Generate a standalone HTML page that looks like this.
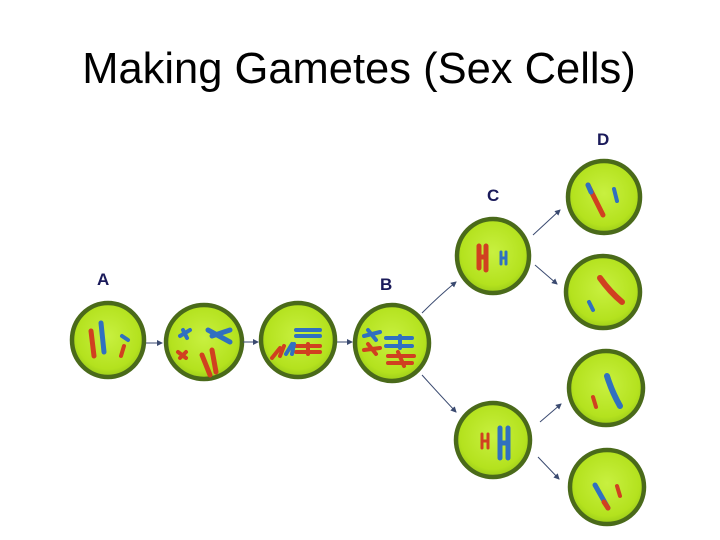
<!DOCTYPE html>
<html><head><style>
body{margin:0;background:#fff;width:720px;height:540px;overflow:hidden}
svg{display:block}
</style></head><body>
<svg width="720" height="540" viewBox="0 0 720 540" xmlns="http://www.w3.org/2000/svg">
<defs>
<radialGradient id="g" cx="50%" cy="45%" r="55%">
<stop offset="0%" stop-color="#c8f040"/><stop offset="80%" stop-color="#b4e21e"/><stop offset="100%" stop-color="#9ccc1a"/>
</radialGradient>
<marker id="ah" markerWidth="6" markerHeight="6" refX="5" refY="3" orient="auto"><path d="M0,0 L6,3 L0,6 z" fill="#3a4a70"/></marker>
</defs>
<text x="359" y="83" text-anchor="middle" font-family="Liberation Sans, sans-serif" font-size="43.5" fill="#000">Making Gametes (Sex Cells)</text>
<g font-family="Liberation Sans, sans-serif" font-weight="bold" font-size="17" fill="#1a1a5a">
<text x="97" y="285">A</text><text x="380" y="290">B</text><text x="487" y="201">C</text><text x="597" y="145">D</text>
</g>
<g fill="url(#g)" stroke="#4a6a1a" stroke-width="4.5">
<ellipse cx="108" cy="340" rx="36" ry="37"/>
<ellipse cx="204" cy="342" rx="38" ry="37"/>
<ellipse cx="298" cy="340" rx="37" ry="37"/>
<ellipse cx="392" cy="343" rx="37" ry="38"/>
<ellipse cx="493" cy="256" rx="36" ry="37"/>
<ellipse cx="493" cy="440" rx="37" ry="37"/>
<ellipse cx="604" cy="197" rx="36" ry="36"/>
<ellipse cx="603" cy="292" rx="37" ry="36"/>
<ellipse cx="606" cy="388" rx="37" ry="37"/>
<ellipse cx="607" cy="487" rx="37" ry="37"/>
</g>
<g stroke="#3a4a70" stroke-width="1" fill="none" marker-end="url(#ah)">
<line x1="146" y1="343" x2="162" y2="343"/>
<line x1="243" y1="342" x2="258" y2="342"/>
<line x1="337" y1="342" x2="352" y2="342"/>
<path d="M422 313 Q440 295 456 282"/>
<path d="M422 375 Q440 395 456 412"/>
<line x1="533" y1="235" x2="560" y2="210"/>
<line x1="535" y1="265" x2="557" y2="284"/>
<line x1="540" y1="422" x2="561" y2="404"/>
<line x1="538" y1="457" x2="559" y2="479"/>
</g>
<g stroke-linecap="round" fill="none">
<line x1="91" y1="331" x2="94" y2="356" stroke="#d04020" stroke-width="5"/>
<line x1="101" y1="323" x2="104" y2="352" stroke="#3070c0" stroke-width="5"/>
<line x1="122" y1="336" x2="128" y2="340" stroke="#3070c0" stroke-width="4"/>
<line x1="124" y1="346" x2="121" y2="356" stroke="#d04020" stroke-width="4"/>
<path d="M180 336 l10 -6 M183 330 l4 8" stroke="#3070c0" stroke-width="4"/>
<path d="M178 352 l8 6 M180 358 l6 -6" stroke="#d04020" stroke-width="4"/>
<path d="M208 330 l22 12 M212 336 l18 -6" stroke="#3070c0" stroke-width="5"/>
<path d="M202 355 l8 20 M212 350 l4 22" stroke="#d04020" stroke-width="5"/>
<path d="M296 330 h24 M296 336 h24" stroke="#3070c0" stroke-width="4"/>
<path d="M296 346 h24 M296 352 h24 M308 344 v10" stroke="#d04020" stroke-width="4"/>
<path d="M272 358 l8 -10 M280 356 l4 -10" stroke="#d04020" stroke-width="4"/>
<path d="M286 354 l6 -10 M292 354 l2 -10" stroke="#3070c0" stroke-width="4"/>
<path d="M364 336 l16 -4 M368 330 l8 10" stroke="#3070c0" stroke-width="4"/>
<path d="M364 350 l16 -2 M368 344 l8 10" stroke="#d04020" stroke-width="4"/>
<path d="M386 338 h26 M386 346 h26 M400 336 v12" stroke="#3070c0" stroke-width="4"/>
<path d="M388 356 h26 M388 363 h24 M398 352 l6 14" stroke="#d04020" stroke-width="4"/>
<path d="M479 246 v22 M486 246 v24 M479 257 h7" stroke="#d04020" stroke-width="5"/>
<path d="M501 252 v12 M506 252 v12 M501 258 h5" stroke="#3070c0" stroke-width="3"/>
<path d="M482 434 v14 M488 434 v14 M482 441 h6" stroke="#d04020" stroke-width="3"/>
<path d="M500 428 v30 M508 428 v30 M500 443 h8" stroke="#3070c0" stroke-width="5"/>
<line x1="588" y1="185" x2="603" y2="215" stroke="#d04020" stroke-width="5"/>
<line x1="588" y1="185" x2="591" y2="192" stroke="#3070c0" stroke-width="5"/>
<line x1="614" y1="189" x2="617" y2="201" stroke="#3070c0" stroke-width="4"/>
<path d="M600 278 Q610 292 622 302" stroke="#d04020" stroke-width="6"/>
<line x1="589" y1="302" x2="593" y2="310" stroke="#3070c0" stroke-width="4"/>
<path d="M607 376 Q612 392 620 406" stroke="#3070c0" stroke-width="6"/>
<line x1="593" y1="397" x2="596" y2="407" stroke="#d04020" stroke-width="4"/>
<line x1="595" y1="485" x2="608" y2="508" stroke="#3070c0" stroke-width="5"/>
<line x1="604" y1="502" x2="608" y2="508" stroke="#d04020" stroke-width="5"/>
<line x1="617" y1="486" x2="620" y2="496" stroke="#d04020" stroke-width="4"/>
</g>
</svg>
</body></html>
